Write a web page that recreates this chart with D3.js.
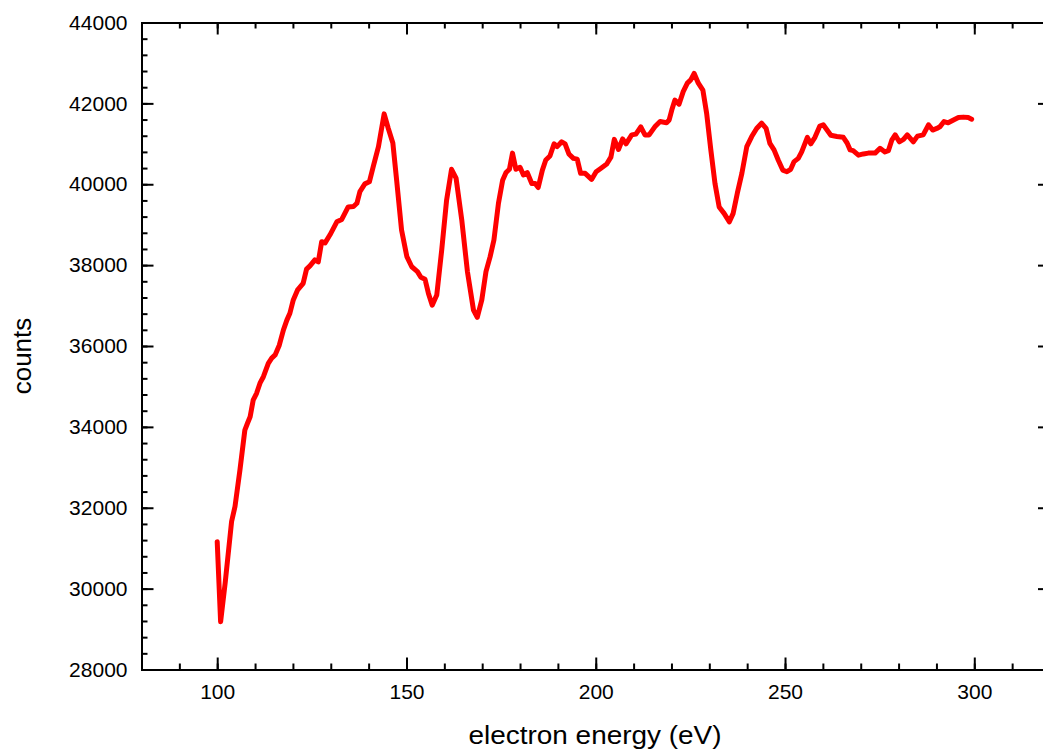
<!DOCTYPE html>
<html>
<head>
<meta charset="utf-8">
<script src="https://cdn.jsdelivr.net/npm/d3@7"></script>
<style>
  body { margin: 0; background: #fff; }
  svg { display: block; font-family: "Liberation Sans", Arial, sans-serif; }
</style>
</head>
<body>
<svg id="chart" width="1043" height="753"></svg>
<script>
// spectrum (energy in eV, counts)
const energy = [100.0, 100.9, 102.1, 103.8, 104.7, 106.0, 107.3, 108.0, 108.7, 109.5,
  110.4, 111.3, 112.2, 113.5, 114.4, 115.3, 116.4, 117.5, 118.4, 119.2,
  120.1, 121.2, 122.7, 123.6, 124.5, 125.8, 126.7, 127.6, 128.5, 129.8,
  131.6, 132.9, 134.6, 136.0, 136.9, 137.7, 139.0, 140.2, 141.2, 142.6,
  144.1, 145.2, 146.4, 147.4, 148.7, 150.1, 151.4, 152.9, 153.8, 154.9,
  155.8, 156.8, 158.0, 159.3, 160.6, 161.9, 163.1, 164.6, 166.1, 167.7,
  168.7, 169.9, 171.0, 172.1, 173.1, 174.3, 175.4, 176.3, 177.2, 178.0,
  178.9, 180.0, 180.9, 181.9, 183.1, 184.0, 184.8, 185.9, 186.8, 187.9,
  189.0, 189.8, 191.0, 191.9, 192.9, 194.1, 195.1, 196.0, 197.2, 198.9,
  200.1, 201.3, 202.9, 204.0, 204.9, 206.0, 207.1, 208.0, 209.5, 210.6,
  211.9, 213.0, 214.1, 215.6, 217.0, 218.7, 219.4, 220.1, 220.9, 222.0,
  223.1, 224.2, 225.1, 226.0, 227.1, 228.3, 229.3, 230.4, 231.5, 232.6,
  233.9, 235.3, 236.3, 237.4, 238.6, 239.9, 241.2, 242.5, 243.8, 245.0,
  246.0, 247.1, 248.2, 249.4, 250.5, 251.5, 252.4, 253.5, 254.4, 255.9,
  256.8, 257.9, 259.2, 260.1, 262.1, 263.7, 265.4, 266.4, 267.2, 268.0,
  269.4, 270.7, 272.0, 273.8, 275.1, 276.4, 277.3, 278.2, 279.1, 280.2,
  281.3, 282.3, 283.9, 285.0, 286.5, 287.9, 289.0, 290.1, 290.9, 292.0,
  293.1, 294.5, 295.8, 297.1, 298.4, 299.3];

const counts = [31160, 29180, 30140, 31660, 32030, 32930, 33920, 34090, 34250, 34660,
  34830, 35080, 35240, 35570, 35700, 35780, 36020, 36400, 36640, 36810,
  37140, 37380, 37550, 37900, 37980, 38130, 38080, 38580, 38550, 38750,
  39070, 39130, 39440, 39450, 39530, 39820, 40010, 40060, 40430, 40930,
  41740, 41380, 41020, 40100, 38870, 38210, 37960, 37840, 37700, 37650,
  37300, 37010, 37260, 38370, 39610, 40370, 40150, 39120, 37840, 36890,
  36710, 37140, 37840, 38210, 38620, 39530, 40100, 40290, 40370, 40770,
  40370, 40420, 40230, 40290, 40020, 40020, 39920, 40350, 40600, 40700,
  41000, 40930, 41050, 41000, 40750, 40640, 40620, 40270, 40270, 40120,
  40310, 40390, 40500, 40670, 41110, 40860, 41120, 41000, 41220, 41240,
  41420, 41220, 41220, 41420, 41550, 41520, 41590, 41840, 42080, 41980,
  42290, 42500, 42580, 42740, 42500, 42330, 41750, 40850, 40020, 39440,
  39280, 39070, 39280, 39780, 40270, 40930, 41180, 41380, 41510, 41380,
  41010, 40850, 40600, 40350, 40310, 40370, 40560, 40640, 40800, 41160,
  41000, 41160, 41440, 41470, 41210, 41180, 41160, 41020, 40850, 40830,
  40720, 40750, 40770, 40770, 40890, 40800, 40830, 41090, 41220, 41050,
  41110, 41220, 41050, 41190, 41220, 41470, 41340, 41380, 41420, 41550,
  41520, 41590, 41650, 41660, 41650, 41610];

// ticks
const xMajor = [100, 150, 200, 250, 300];
const xMinor = d3.range(80, 321, 10);
const yMajor = [28000, 30000, 32000, 34000, 36000, 38000, 40000, 42000, 44000];
const yMinor = d3.range(28000, 44001, 400);

const data = energy.map((e, i) => ({ e: e, c: counts[i] }));

const svg = d3.select("#chart");
const margin = { top: 22.5, left: 141.5 };
const width = 908.5;   // right frame sits just outside the picture
const height = 647;

const chart = svg.append("g")
  .attr("transform", `translate(${margin.left},${margin.top})`);

const x = d3.scaleLinear().domain([80, 320]).range([0, width]);
const y = d3.scaleLinear().domain([28000, 44000]).range([height, 0]);

// minor ticks (inward, all four sides)
chart.append("g").attr("class", "minor")
  .attr("transform", `translate(0,${height})`)
  .call(d3.axisBottom(x).tickValues(xMinor).tickSize(-6).tickFormat(""));
chart.append("g").attr("class", "minor")
  .call(d3.axisTop(x).tickValues(xMinor).tickSize(-6).tickFormat(""));
chart.append("g").attr("class", "minor")
  .call(d3.axisLeft(y).tickValues(yMinor).tickSize(-6).tickFormat(""));
chart.append("g").attr("class", "minor")
  .attr("transform", `translate(${width},0)`)
  .call(d3.axisRight(y).tickValues(yMinor).tickSize(-6).tickFormat(""));

// major ticks + labels
chart.append("g").attr("class", "major")
  .attr("transform", `translate(0,${height})`)
  .call(d3.axisBottom(x).tickValues(xMajor).tickSizeInner(-12).tickSizeOuter(0)
    .tickPadding(15).tickFormat(d3.format("d")));
chart.append("g").attr("class", "major")
  .call(d3.axisTop(x).tickValues(xMajor).tickSizeInner(-12).tickSizeOuter(0).tickFormat(""));
chart.append("g").attr("class", "major")
  .call(d3.axisLeft(y).tickValues(yMajor).tickSizeInner(-12).tickSizeOuter(0)
    .tickPadding(14).tickFormat(d3.format("d")));
chart.append("g").attr("class", "major")
  .attr("transform", `translate(${width},0)`)
  .call(d3.axisRight(y).tickValues(yMajor).tickSizeInner(-12).tickSizeOuter(0).tickFormat(""));

chart.selectAll(".domain, .tick line")
  .style("stroke", "#000")
  .style("stroke-width", 2);
chart.selectAll(".tick text")
  .style("font-size", "21px")
  .style("fill", "#000");

// spectrum line
const line = d3.line()
  .x(d => x(d.e))
  .y(d => y(d.c));

chart.append("path")
  .datum(data)
  .attr("d", line)
  .style("fill", "none")
  .style("stroke", "#ff0000")
  .style("stroke-width", 5)
  .style("stroke-linejoin", "round")
  .style("stroke-linecap", "round");

// axis titles
svg.append("text")
  .attr("text-anchor", "middle")
  .attr("x", 595)
  .attr("y", 744)
  .attr("textLength", 253)
  .attr("lengthAdjust", "spacingAndGlyphs")
  .style("font-size", "26px")
  .text("electron energy (eV)");

svg.append("text")
  .attr("text-anchor", "middle")
  .attr("transform", "translate(31,356) rotate(-90)")
  .style("font-size", "26px")
  .text("counts");
</script>
</body>
</html>
